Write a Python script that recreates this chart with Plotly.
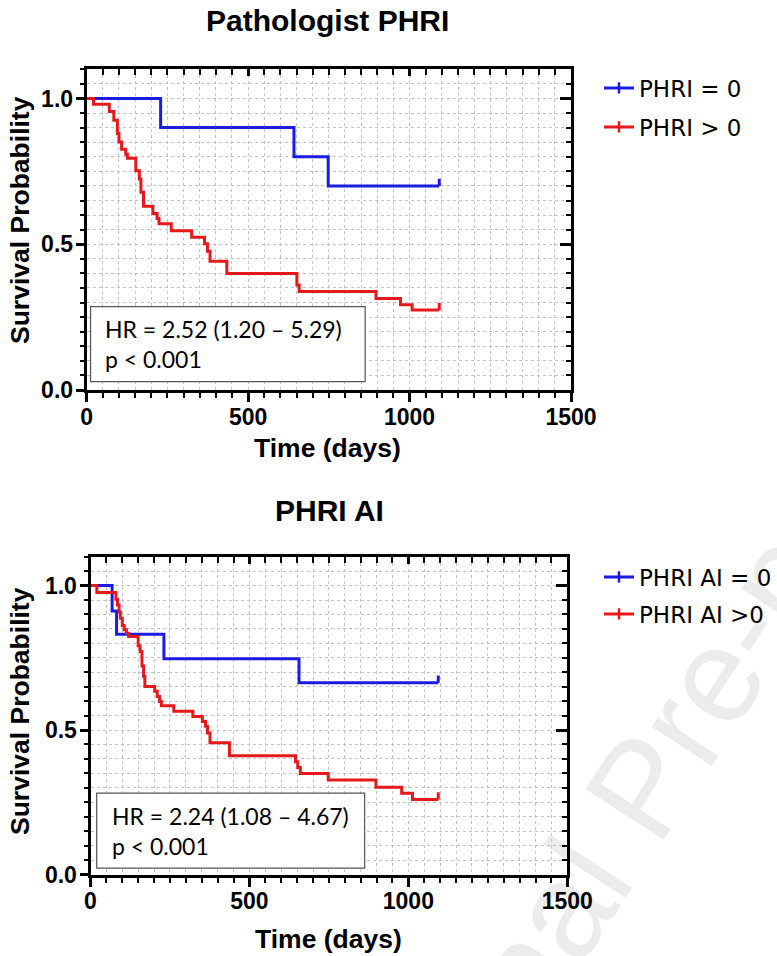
import plotly.graph_objects as go

# ---------------- data ----------------
# Pathologist PHRI
p_title = "Pathologist PHRI"
p_blue_name = "PHRI = 0"
p_red_name = "PHRI > 0"
p_blue_t = [0, 229, 642, 748]
p_blue_s = [1.0, 0.90, 0.80, 0.70]
p_blue_end = 1092
p_red_t = [0, 21, 70, 84, 95, 100, 108, 121, 126, 152, 163, 168, 176, 205, 218, 224,
           262, 325, 365, 374, 382, 434, 651, 658, 896, 972, 1008]
p_red_s = [1.0, 0.980, 0.955, 0.925, 0.880, 0.851, 0.826, 0.809, 0.795, 0.752, 0.724,
           0.678, 0.630, 0.605, 0.588, 0.570, 0.546, 0.524, 0.502, 0.476, 0.442, 0.400,
           0.360, 0.338, 0.314, 0.292, 0.274]
p_red_end = 1092
p_stats = "HR = 2.52 (1.20 \u2013 5.29)<br>p < 0.001"

# PHRI AI
a_title = "PHRI AI"
a_blue_name = "PHRI AI = 0"
a_red_name = "PHRI AI >0"
a_blue_t = [0, 68, 82, 231, 656]
a_blue_s = [1.0, 0.912, 0.832, 0.747, 0.664]
a_blue_end = 1094
a_red_t = [0, 20, 80, 85, 90, 94, 100, 106, 113, 120, 150, 156, 162, 167, 171, 202, 210,
           217, 223, 262, 322, 352, 362, 368, 376, 437, 645, 652, 660, 748, 898, 979, 1013]
a_red_s = [1.0, 0.976, 0.953, 0.933, 0.909, 0.887, 0.862, 0.847, 0.835, 0.824, 0.792,
           0.772, 0.722, 0.685, 0.651, 0.634, 0.616, 0.599, 0.584, 0.565, 0.547, 0.530,
           0.513, 0.490, 0.456, 0.411, 0.390, 0.370, 0.350, 0.327, 0.302, 0.281, 0.260]
a_red_end = 1094
a_stats = "HR = 2.24 (1.08 \u2013 4.67)<br>p < 0.001"

x_ticks = [0, 500, 1000, 1500]
y_ticks = [0.0, 0.5, 1.0]
x_title = "Time (days)"
y_title = "Survival Probability"
watermark = "Journal Pre-proof"

# ---------------- style ----------------
W, H = 777, 956
BLUE = "#1c1ce0"
RED = "#e5191c"
GRID = "#c4c4c4"
FONT = "Liberation Sans"
CENSOR_H = 0.025


def px_x(p):
    return p / W


def px_y(p):
    return 1 - p / H


fig = go.Figure()


def add_curve(t, s, t_end, color, xa, ya):
    xs = list(t) + [t_end]
    ys = list(s) + [s[-1]]
    fig.add_trace(go.Scatter(x=xs, y=ys, mode="lines", line=dict(color=color, width=3, shape="hv"),
                             xaxis=xa, yaxis=ya, showlegend=False, hoverinfo="skip"))
    # censor tick at the end of follow-up
    fig.add_trace(go.Scatter(x=[t_end, t_end], y=[s[-1], s[-1] + CENSOR_H], mode="lines",
                             line=dict(color=color, width=3), xaxis=xa, yaxis=ya,
                             showlegend=False, hoverinfo="skip"))


def add_legend_item(name, color, legend_id):
    fig.add_trace(go.Scatter(x=[None], y=[None], mode="lines+markers", name=name,
                             line=dict(color=color, width=3),
                             marker=dict(symbol="line-ns", size=8, line=dict(color=color, width=2.5)),
                             legend=legend_id, xaxis="x", yaxis="y"))


add_curve(p_blue_t, p_blue_s, p_blue_end, BLUE, "x", "y")
add_curve(p_red_t, p_red_s, p_red_end, RED, "x", "y")
add_curve(a_blue_t, a_blue_s, a_blue_end, BLUE, "x2", "y2")
add_curve(a_red_t, a_red_s, a_red_end, RED, "x2", "y2")
# empty traces so the overlay (mirror tick) axes are drawn
fig.add_trace(go.Scatter(x=[None], y=[None], xaxis="x3", yaxis="y3", showlegend=False, hoverinfo="skip"))
fig.add_trace(go.Scatter(x=[None], y=[None], xaxis="x4", yaxis="y4", showlegend=False, hoverinfo="skip"))

add_legend_item(p_blue_name, BLUE, "legend")
add_legend_item(p_red_name, RED, "legend2")
add_legend_item(a_blue_name, BLUE, "legend3")
add_legend_item(a_red_name, RED, "legend4")

tickfont = dict(family=FONT, size=23, color="black", weight="bold")


def xaxis_main(domain, anchor):
    return dict(domain=domain, anchor=anchor, range=[0, 1500], tickvals=x_ticks,
                ticks="outside", ticklen=9, tickwidth=3, tickcolor="black",
                tickfont=tickfont, ticklabelstandoff=-5, automargin=False,
                showline=True, linewidth=3, linecolor="black", mirror=True,
                showgrid=True, gridcolor=GRID, griddash="dot", gridwidth=1, zeroline=False,
                minor=dict(dtick=50, ticks="outside", ticklen=5, tickwidth=2, tickcolor="black",
                           showgrid=True, gridcolor=GRID, griddash="dot", gridwidth=1))


def yaxis_main(domain, anchor):
    return dict(domain=domain, anchor=anchor, range=[0, 1.1], tickvals=y_ticks, tickformat=".1f",
                ticks="outside", ticklen=8, tickwidth=3, tickcolor="black",
                tickfont=tickfont, ticklabelstandoff=-2, automargin=False,
                showline=True, linewidth=3, linecolor="black", mirror=True,
                showgrid=True, gridcolor=GRID, griddash="dot", gridwidth=1, zeroline=False,
                minor=dict(dtick=0.05, tick0=0, ticks="outside", ticklen=4, tickwidth=2, tickcolor="black",
                           showgrid=True, gridcolor=GRID, griddash="dot", gridwidth=1))


def xaxis_top(domain, over, anchor):
    return dict(domain=domain, overlaying=over, anchor=anchor, side="top", range=[0, 1500],
                tickvals=x_ticks, ticks="inside", ticklen=7, tickwidth=3, tickcolor="black",
                showticklabels=False, showgrid=False, showline=False, zeroline=False, automargin=False,
                minor=dict(dtick=50, ticks="inside", ticklen=6, tickwidth=2, tickcolor="black", showgrid=False))


def yaxis_right(domain, over, anchor):
    return dict(domain=domain, overlaying=over, anchor=anchor, side="right", range=[0, 1.1],
                tickvals=y_ticks, ticks="inside", ticklen=11, tickwidth=3, tickcolor="black",
                showticklabels=False, showgrid=False, showline=False, zeroline=False, automargin=False,
                minor=dict(dtick=0.05, tick0=0, ticks="inside", ticklen=5, tickwidth=2, tickcolor="black",
                           showgrid=False))


top_xd = [px_x(86.7), px_x(571)]
top_yd = [px_y(390), px_y(69.3)]
bot_xd = [px_x(90.5), px_x(567.3)]
bot_yd = [px_y(874.5), px_y(556.7)]


def legend_at(xpx, ypx):
    return dict(x=px_x(xpx), y=px_y(ypx), xref="container", yref="container",
                xanchor="left", yanchor="middle",
                font=dict(family="DejaVu Sans", size=23, color="black"), bgcolor="rgba(0,0,0,0)",
                itemwidth=30, tracegroupgap=0)


fig.update_layout(
    width=W, height=H, margin=dict(l=0, r=0, t=0, b=0, autoexpand=False),
    paper_bgcolor="white", plot_bgcolor="rgba(0,0,0,0)",
    xaxis=xaxis_main(top_xd, "y"), yaxis=yaxis_main(top_yd, "x"),
    xaxis2=xaxis_main(bot_xd, "y2"), yaxis2=yaxis_main(bot_yd, "x2"),
    xaxis3=xaxis_top(top_xd, "x", "y"), yaxis3=yaxis_right(top_yd, "y", "x"),
    xaxis4=xaxis_top(bot_xd, "x2", "y2"), yaxis4=yaxis_right(bot_yd, "y2", "x2"),
    legend=legend_at(599, 88), legend2=legend_at(599, 127),
    legend3=legend_at(599, 577), legend4=legend_at(599, 614),
)

bold_title = dict(family=FONT, size=30, color="black", weight="bold")
axis_title = dict(family=FONT, size=26.5, color="black", weight="bold")
stat_font = dict(family="Lato", size=23, color="black")

# faint watermark of the source page, kept beneath the chart
fig.add_shape(type="rect", xref="paper", yref="paper", layer="below",
              x0=px_x(630) - 0.01, x1=px_x(630) + 0.01, y0=px_y(782) - 0.01, y1=px_y(782) + 0.01,
              line=dict(width=0), fillcolor="rgba(0,0,0,0)",
              label=dict(text=watermark, textangle=-57, textposition="middle center",
                         font=dict(family=FONT, size=135, color="#ececec")))

annos = [
    dict(text=p_title, x=px_x(327), y=px_y(21), font=bold_title),
    dict(text=a_title, x=px_x(329), y=px_y(510), font=bold_title),
    dict(text=x_title, x=px_x(327), y=px_y(448), font=axis_title),
    dict(text=x_title, x=px_x(328), y=px_y(939), font=axis_title),
    dict(text=y_title, x=px_x(20), y=px_y(220), font=axis_title, textangle=-90),
    dict(text=y_title, x=px_x(20), y=px_y(711), font=axis_title, textangle=-90),
]
for a in annos:
    fig.add_annotation(xref="paper", yref="paper", showarrow=False, xanchor="center", yanchor="middle", **a)

# stats boxes
fig.add_shape(type="rect", xref="x domain", yref="y domain", x0=0.008, x1=0.575, y0=0.026, y1=0.26,
              line=dict(color="#555555", width=1.2), fillcolor="white", layer="above")
fig.add_shape(type="rect", xref="x2 domain", yref="y2 domain", x0=0.013, x1=0.575, y0=0.02, y1=0.256,
              line=dict(color="#555555", width=1.2), fillcolor="white", layer="above")
fig.add_annotation(xref="x domain", yref="y domain", x=0.034, y=0.143, xanchor="left", yanchor="middle",
                   text=p_stats, align="left", showarrow=False, font=stat_font)
fig.add_annotation(xref="x2 domain", yref="y2 domain", x=0.041, y=0.138, xanchor="left", yanchor="middle",
                   text=a_stats, align="left", showarrow=False, font=stat_font)

fig.write_html("out.html", config={"displayModeBar": False},
               post_script="document.body.style.margin='0px';")
